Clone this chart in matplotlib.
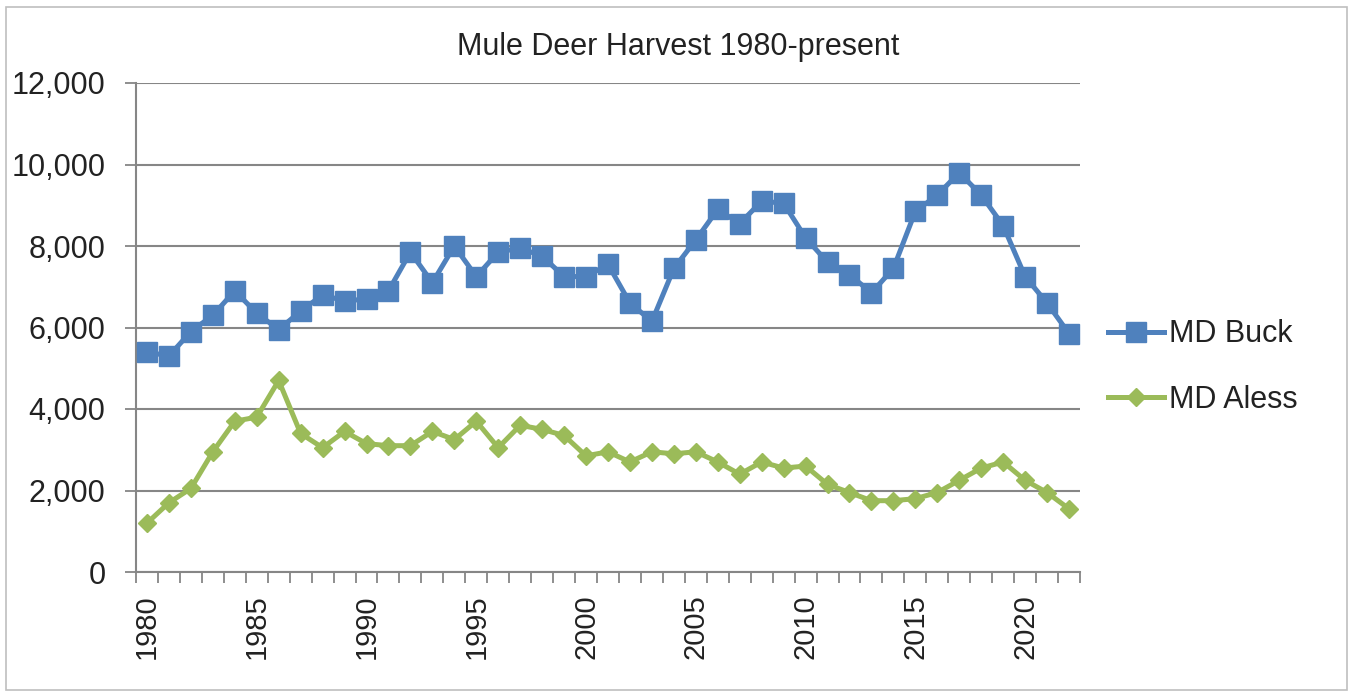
import matplotlib

matplotlib.use("Agg")
import matplotlib.pyplot as plt
from matplotlib.patches import Rectangle
from matplotlib.ticker import FuncFormatter, MultipleLocator

years = list(range(1980, 2023))

md_buck = [
    5400, 5300, 5900, 6300, 6900, 6350, 5950, 6400, 6800, 6650,
    6700, 6900, 7850, 7100, 8000, 7250, 7850, 7950, 7750, 7250,
    7250, 7550, 6600, 6150, 7450, 8150, 8900, 8550, 9100, 9050,
    8200, 7600, 7300, 6850, 7450, 8850, 9250, 9800, 9250, 8500,
    7250, 6600, 5850,
]

md_aless = [
    1200, 1700, 2050, 2950, 3700, 3800, 4700, 3400, 3050, 3450,
    3150, 3100, 3100, 3450, 3250, 3700, 3050, 3600, 3500, 3350,
    2850, 2950, 2700, 2950, 2900, 2950, 2700, 2400, 2700, 2550,
    2600, 2150, 1950, 1750, 1750, 1800, 1950, 2250, 2550, 2700,
    2250, 1950, 1550,
]

plt.rcParams["font.family"] = ["Liberation Sans", "DejaVu Sans"]

W, H, DPI = 1351, 692, 100
fig = plt.figure(figsize=(W / DPI, H / DPI), dpi=DPI)

# light outer chart border
fig.patches.append(
    Rectangle((6 / W, 1 - 690 / H), (1347 - 6) / W, (690 - 7) / H,
              transform=fig.transFigure, fill=False, edgecolor="#bfbfbf", linewidth=1.2)
)

left, right, top, bottom = 136, 1080, 83, 572
ax = fig.add_axes([left / W, 1 - bottom / H, (right - left) / W, (bottom - top) / H])

idx = list(range(len(years)))
ax.plot(idx, md_buck, color="#4F81BD", linewidth=3.6, marker="s", markersize=14,
        label="MD Buck", zorder=3)
ax.plot(idx, md_aless, color="#9BBB59", linewidth=3.6, marker="D", markersize=9,
        label="MD Aless", zorder=3)

ax.set_xlim(-0.5, len(years) - 0.5)
ax.set_ylim(0, 12000)
ax.yaxis.set_major_locator(MultipleLocator(2000))
ax.yaxis.set_major_formatter(FuncFormatter(lambda v, p: f"{int(v):,}"))
ax.grid(axis="y", color="#868686", linewidth=1.5)
ax.set_axisbelow(True)

ax.set_xticks([i for i, y in enumerate(years) if y % 5 == 0])
ax.set_xticklabels([str(y) for y in years if y % 5 == 0], rotation=90)
ax.set_xticks([i - 0.5 for i in range(len(years) + 1)], minor=True)
ax.tick_params(axis="x", which="major", length=0, pad=16, labelsize=21, colors="#222222")
ax.tick_params(axis="x", which="minor", length=8, width=1.3, color="#868686", direction="out")
ax.tick_params(axis="y", length=8, width=1.3, color="#868686", pad=14, labelsize=22,
               labelcolor="#222222")

for side in ["top", "right"]:
    ax.spines[side].set_visible(False)
for side in ["left", "bottom"]:
    ax.spines[side].set_color("#868686")
    ax.spines[side].set_linewidth(1.5)

fig.text((447 + 910) / 2 / W, 1 - 47 / H, "Mule Deer Harvest 1980-present",
         ha="center", va="center", fontsize=22, color="#222222")

fig.legend(loc="center left", bbox_to_anchor=(1080 / W, 1 - 367 / H), frameon=False,
           fontsize=22, handlelength=1.85, handletextpad=0.15, labelspacing=1.15,
           labelcolor="#222222")

fig.savefig("out.png", dpi=DPI)
plt.close(fig)
